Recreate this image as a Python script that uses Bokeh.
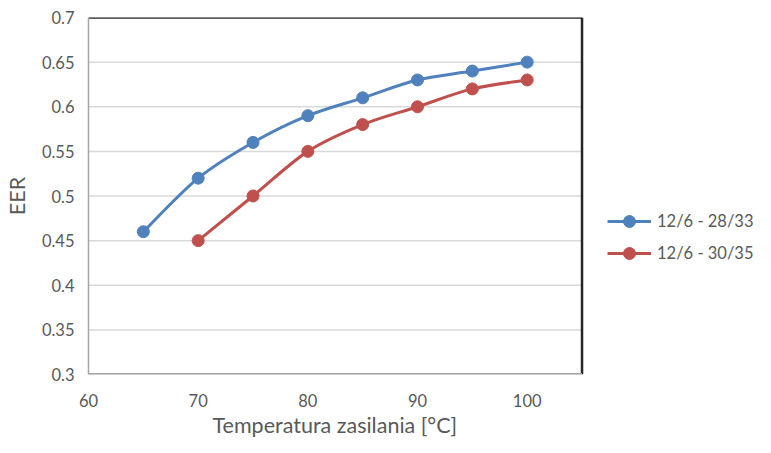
from bokeh.plotting import figure
from bokeh.embed import file_html
from bokeh.resources import INLINE
from bokeh.models import FixedTicker, Range1d, Legend, LegendItem, ColumnDataSource, Title

# ---- data ----
temp_blue = [65, 70, 75, 80, 85, 90, 95, 100]
eer_blue = [0.46, 0.52, 0.56, 0.59, 0.61, 0.63, 0.64, 0.65]
temp_red = [70, 75, 80, 85, 90, 95, 100]
eer_red = [0.45, 0.50, 0.55, 0.58, 0.60, 0.62, 0.63]
series_names = ["12/6 - 28/33", "12/6 - 30/35"]
x_ticks = [60, 70, 80, 90, 100]
y_ticks = [0.3, 0.35, 0.4, 0.45, 0.5, 0.55, 0.6, 0.65, 0.7]
y_tick_labels = ["0.3", "0.35", "0.4", "0.45", "0.5", "0.55", "0.6", "0.65", "0.7"]
x_axis_min, x_axis_max = 60, 105
y_axis_min, y_axis_max = 0.3, 0.7

BLUE = "#4f81bd"
RED = "#c0504d"
TXT = "#595959"
FONT = "Lato"

W, H = 755, 437
LEFT, RIGHT_EDGE, TOP, BOTTOM = 86, 581, 17, 378
px_per_unit = (RIGHT_EDGE - LEFT) / (x_axis_max - x_axis_min)
x_end = x_axis_max + (W - RIGHT_EDGE) / px_per_unit  # frame extends under legend area

p = figure(width=W, height=H, output_backend="svg", toolbar_location=None,
           x_range=Range1d(x_axis_min, x_end), y_range=Range1d(y_axis_min, y_axis_max),
           min_border_left=LEFT, min_border_right=0, min_border_top=TOP,
           min_border_bottom=H - BOTTOM)
p.outline_line_color = None
p.background_fill_color = "white"
p.border_fill_color = "white"
p.xgrid.visible = False
p.ygrid.visible = False

# horizontal gridlines across the plot area only
p.segment(x0=[x_axis_min] * len(y_ticks), y0=y_ticks, x1=[x_axis_max] * len(y_ticks), y1=y_ticks,
          line_color="#d9d9d9", line_width=1.5)
# plot-area border (top and right dark, bottom grey axis line)
p.segment(x0=[x_axis_min, x_axis_max], y0=[y_axis_max, y_axis_min],
          x1=[x_axis_max, x_axis_max], y1=[y_axis_max, y_axis_max],
          line_color="#262626", line_width=2.5)
p.segment(x0=[x_axis_min], y0=[y_axis_min], x1=[x_axis_max], y1=[y_axis_min],
          line_color="#a6a6a6", line_width=3)

for ax in (p.xaxis[0], p.yaxis[0]):
    ax.axis_line_color = "#a6a6a6"
    ax.axis_line_width = 1.5
    ax.major_tick_line_color = None
    ax.minor_tick_line_color = None
    ax.major_tick_out = 0
    ax.major_tick_in = 0
    ax.major_label_text_color = TXT
    ax.major_label_text_font = FONT
    ax.major_label_text_font_size = "16.5px"
    ax.axis_label_text_color = TXT
    ax.axis_label_text_font = FONT
    ax.axis_label_text_font_size = "21.5px"
    ax.axis_label_text_font_style = "normal"

p.xaxis.axis_line_color = None
p.xaxis.ticker = FixedTicker(ticks=x_ticks)
p.yaxis.ticker = FixedTicker(ticks=y_ticks)
p.yaxis.major_label_overrides = {t: l for t, l in zip(y_ticks, y_tick_labels)}
p.yaxis.axis_label = "EER"
p.xaxis.major_label_standoff = 19
p.yaxis.major_label_standoff = 14
p.yaxis.axis_label_standoff = 9

p.add_layout(Title(text="Temperatura zasilania [°C]", align="left", offset=124,
                   text_font=FONT, text_font_size="21.5px", text_color=TXT,
                   text_font_style="normal", standoff=0), "below")


def smooth_segments(xs, ys):
    n = len(xs)
    x0, y0, x1, y1, cx0, cy0, cx1, cy1 = [], [], [], [], [], [], [], []
    for i in range(n - 1):
        xm, ym = (xs[i - 1], ys[i - 1]) if i > 0 else (xs[i], ys[i])
        xp, yp = (xs[i + 2], ys[i + 2]) if i + 2 < n else (xs[i + 1], ys[i + 1])
        x0.append(xs[i]); y0.append(ys[i])
        x1.append(xs[i + 1]); y1.append(ys[i + 1])
        cx0.append(xs[i] + (xs[i + 1] - xm) / 6); cy0.append(ys[i] + (ys[i + 1] - ym) / 6)
        cx1.append(xs[i + 1] - (xp - xs[i]) / 6); cy1.append(ys[i + 1] - (yp - ys[i]) / 6)
    return ColumnDataSource(dict(x0=x0, y0=y0, x1=x1, y1=y1, cx0=cx0, cy0=cy0, cx1=cx1, cy1=cy1))


items = []
for xs, ys, col, name in [(temp_blue, eer_blue, BLUE, series_names[0]),
                          (temp_red, eer_red, RED, series_names[1])]:
    src = smooth_segments(xs, ys)
    bz = p.bezier(x0="x0", y0="y0", x1="x1", y1="y1", cx0="cx0", cy0="cy0",
                  cx1="cx1", cy1="cy1", source=src, line_color=col, line_width=3)
    sc = p.scatter(xs, ys, size=12, marker="circle", fill_color=col, line_color=col)
    items.append(LegendItem(label=name, renderers=[bz, sc]))

legend = Legend(items=items, location=(519, 106), orientation="vertical",
                glyph_width=44, glyph_height=30, label_text_font=FONT,
                label_text_font_size="16.5px", label_text_color=TXT,
                spacing=2, padding=0, margin=0, border_line_color=None,
                background_fill_alpha=0, label_standoff=6)
p.add_layout(legend, "center")

open("out.html", "w").write(file_html(p, INLINE))
